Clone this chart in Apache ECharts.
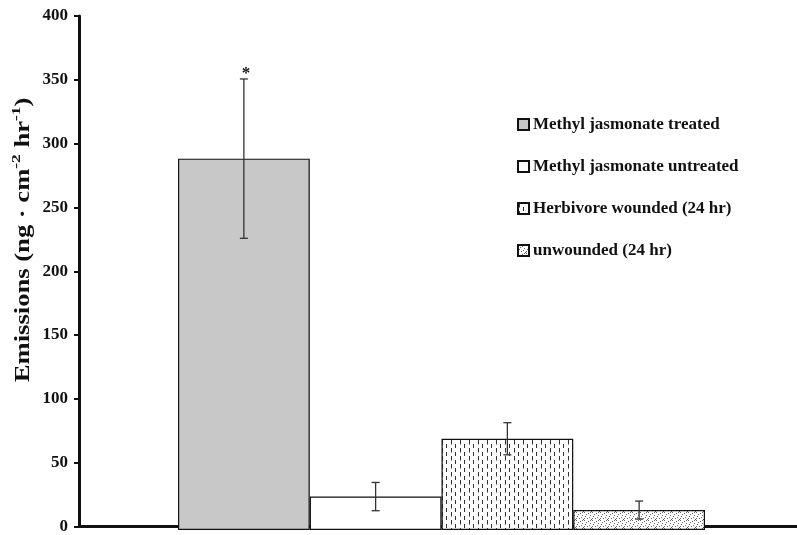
<!DOCTYPE html>
<html>
<head>
<meta charset="utf-8">
<script src="https://cdn.jsdelivr.net/npm/echarts@6/dist/echarts.min.js"></script>
<style>
  html, body { margin: 0; padding: 0; background: #fff; }
  #chart { width: 797px; height: 535px; }
</style>
</head>
<body>
<div id="chart"></div>
<script>
// Treatment groups and mean emissions (ng·cm-2·hr-1)
const groups = ['Methyl jasmonate treated', 'Methyl jasmonate untreated', 'Herbivore wounded (24 hr)', 'unwounded (24 hr)'];
const means = [289, 26, 71, 15.5];
const errors = [62, 11, 12.5, 7];
const significance = ['*', '', '', ''];
const yTicks = { min: 0, max: 400, step: 50 };

const FONT = '"Liberation Serif", "Times New Roman", serif';

// Vertical dashed hatching for the wounded group
function dashPattern() {
  const c = document.createElement('canvas');
  c.width = 9; c.height = 8;
  const g = c.getContext('2d');
  g.fillStyle = '#fff'; g.fillRect(0, 0, 9, 8);
  g.fillStyle = '#333';
  g.fillRect(1, 0, 1, 4.5);
  g.fillRect(5, 4, 1, 4.5);
  return c;
}
// Fine stipple for the unwounded group
function stipplePattern() {
  const c = document.createElement('canvas');
  c.width = 8; c.height = 8;
  const g = c.getContext('2d');
  g.fillStyle = '#fff'; g.fillRect(0, 0, 8, 8);
  g.fillStyle = '#666';
  const dots = [[0,0],[4,1],[2,2],[6,3],[1,4],[5,5],[3,6],[7,7],[6,0],[0,6]];
  dots.forEach(d => g.fillRect(d[0], d[1], 1, 1));
  return c;
}

const fills = [
  '#c8c8c8',
  '#ffffff',
  { image: dashPattern(), repeat: 'repeat' },
  { image: stipplePattern(), repeat: 'repeat' }
];

const chart = echarts.init(document.getElementById('chart'), null, { renderer: 'canvas' });

const barSeries = groups.map((name, i) => ({
  name: name,
  type: 'bar',
  xAxisIndex: 1,
  yAxisIndex: 1,
  barWidth: '100%',
  barGap: '-100%',
  data: groups.map((_, j) => (j === i ? means[i] : '-')),
  itemStyle: { color: fills[i], borderColor: '#111', borderWidth: 1.2 },
  emphasis: { disabled: true },
  z: 2
}));

const errorSeries = {
  type: 'custom',
  xAxisIndex: 1,
  yAxisIndex: 1,
  z: 5,
  silent: true,
  data: means.map((m, i) => [i, m - errors[i], m + errors[i]]),
  renderItem: function (params, api) {
    const idx = api.value(0);
    const top = api.coord([idx, api.value(2)]);
    const bot = api.coord([idx, api.value(1)]);
    const cap = 4;
    const style = { stroke: '#333', lineWidth: 1.3 };
    const children = [
      { type: 'line', shape: { x1: top[0], y1: top[1], x2: bot[0], y2: bot[1] }, style: style },
      { type: 'line', shape: { x1: top[0] - cap, y1: top[1], x2: top[0] + cap, y2: top[1] }, style: style },
      { type: 'line', shape: { x1: bot[0] - cap, y1: bot[1], x2: bot[0] + cap, y2: bot[1] }, style: style }
    ];
    if (significance[idx]) {
      children.push({
        type: 'text',
        style: {
          text: significance[idx], x: top[0] + 2, y: top[1] + 3,
          textAlign: 'center', textVerticalAlign: 'bottom',
          font: 'bold 17px ' + FONT, fill: '#111'
        }
      });
    }
    return { type: 'group', children: children };
  }
};

chart.setOption({
  animation: false,
  backgroundColor: '#fff',
  grid: [
    { left: 79, right: -7, top: 16, bottom: 5 },
    { left: 178, right: 92, top: 16, bottom: 5 }
  ],
  legend: {
    orient: 'vertical',
    left: 517,
    top: 116,
    padding: 0,
    itemWidth: 11,
    itemHeight: 11,
    itemGap: 25,
    icon: 'rect',
    selectedMode: false,
    data: groups,
    textStyle: { fontFamily: FONT, fontWeight: 'bold', fontSize: 17, lineHeight: 17, color: '#111', padding: [0, 0, 0, -1] }
  },
  xAxis: [
    {
      type: 'value', gridIndex: 0, min: 0, max: 1,
      axisLine: { show: true, lineStyle: { color: '#111', width: 3 } },
      axisTick: { show: false }, axisLabel: { show: false }, splitLine: { show: false }
    },
    {
      type: 'category', gridIndex: 1, data: groups, show: false
    }
  ],
  yAxis: [
    {
      type: 'value', gridIndex: 0,
      min: yTicks.min, max: yTicks.max, interval: yTicks.step,
      axisLine: { show: true, lineStyle: { color: '#111', width: 3 } },
      axisTick: { show: true, length: 5, lineStyle: { color: '#111', width: 2 } },
      axisLabel: { fontFamily: FONT, fontWeight: 'bold', fontSize: 17, color: '#111', margin: 11 },
      splitLine: { show: false }
    },
    {
      type: 'value', gridIndex: 1,
      min: yTicks.min, max: yTicks.max, interval: yTicks.step, show: false
    }
  ],
  graphic: [
    {
      type: 'text',
      x: 22,
      y: 240,
      rotation: Math.PI / 2,
      scaleX: 1.33,
      style: {
        x: 0, y: 0,
        align: 'center',
        verticalAlign: 'middle',
        text: '{m|Emissions (ng · cm}{s|-2}{m| hr}{s|-1}{m|)}',
        rich: {
          m: { fontFamily: FONT, fontWeight: 'bold', fontSize: 20, fill: '#111', lineHeight: 24, verticalAlign: 'bottom' },
          s: { fontFamily: FONT, fontWeight: 'bold', fontSize: 13, fill: '#111', lineHeight: 24, verticalAlign: 'top' }
        }
      }
    }
  ],
  series: barSeries.concat([errorSeries])
});
</script>
</body>
</html>
